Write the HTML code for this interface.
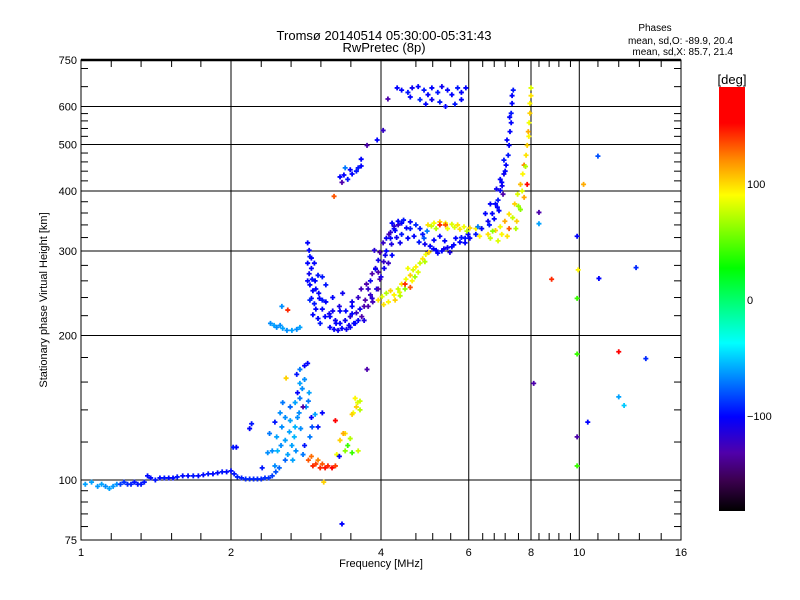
<!DOCTYPE html>
<html><head><meta charset="utf-8">
<style>
html,body{margin:0;padding:0;background:#fff;}
svg{display:block;font-family:"Liberation Sans",sans-serif;}
text{fill:#000;}
</style></head>
<body>
<svg id="chart" width="800" height="600" viewBox="0 0 800 600" xmlns="http://www.w3.org/2000/svg">
<rect x="0" y="0" width="800" height="600" fill="#fff"/>
<text x="384" y="40" font-size="13" text-anchor="middle">Tromsø 20140514 05:30:00-05:31:43</text>
<text x="384" y="52" font-size="13" text-anchor="middle">RwPretec (8p)</text>
<text x="655" y="31" font-size="10" text-anchor="middle">Phases</text>
<text x="733" y="44" font-size="10" text-anchor="end">mean, sd,O: -89.9, 20.4</text>
<text x="733" y="55" font-size="10" text-anchor="end">mean, sd,X:  85.7, 21.4</text>
<g id="grid"></g>
<g id="points"></g>
<g id="axes"></g>
<text x="381" y="567" font-size="11" text-anchor="middle">Frequency [MHz]</text>
<text x="0" y="0" font-size="11" text-anchor="middle" transform="translate(47,300) rotate(-90)">Stationary phase Virtual Height [km]</text>
<defs><linearGradient id="cbar" x1="0" y1="0" x2="0" y2="1">
<stop offset="0" stop-color="#ff0000"/><stop offset="0.085" stop-color="#ff0000"/>
<stop offset="0.172" stop-color="#ff8c00"/><stop offset="0.255" stop-color="#ffff00"/>
<stop offset="0.427" stop-color="#00ff00"/><stop offset="0.604" stop-color="#00ffff"/>
<stop offset="0.778" stop-color="#0000ff"/><stop offset="0.863" stop-color="#5000aa"/>
<stop offset="0.927" stop-color="#3c0050"/><stop offset="1" stop-color="#000000"/>
</linearGradient></defs>
<g>
<rect x="719" y="87" width="26" height="424" fill="url(#cbar)"/>
<text x="732" y="84" font-size="13" text-anchor="middle">[deg]</text>
<text x="747" y="188" font-size="11">100</text>
<text x="747" y="304" font-size="11">0</text>
<text x="747" y="420" font-size="11">−100</text>
</g>
</svg>
<script>
// axis tick data
const xMajor=[1,2,4,6,8,10,16];
const xMinor=[1.15,1.32,1.52,1.74,2.3,2.64,3.03,3.48,4.7,5.08,5.52,6.4,6.75,7.1,7.55,8.3,8.7,9.1,9.6,10.9,12.0,13.2,14.6];
const yMajor=[75,100,200,300,400,500,600,750];
const yGrid=[100,200,300,400,500,600];
const yMinor=[80,85,90,95,120,140,160,180,220,240,260,280,320,340,360,380,420,440,460,480,520,540,560,580,660,720];

// E layer trace
const aF=[1.02,1.05,1.08,1.1,1.12,1.14,1.16,1.18,1.2,1.22,1.24,1.26,1.28,1.3,1.32,1.34,1.36,1.38,1.41,1.44,1.47,1.5,1.53,1.56,1.6,1.64,1.68,1.72,1.76,1.8,1.84,1.88,1.92,1.96,2.0,2.03,2.06,2.1,2.14,2.18,2.22,2.26,2.3,2.34,2.38,2.42,2.46,2.5];
const aH=[98,99,97,98,97,96,97,98,98,99,98,98,99,98,98,99,102,101,100,101,101,101,101,101.5,102,102,102,102,102.5,103,103,103.5,104,104,104.5,103,101.5,101,100.5,100.5,100.5,100.5,100.5,101,101,102,104,106];
const aP=[-60,-60,-62,-60,-65,-60,-62,-65,-85,-88,-90,-92,-95,-95,-95,-95,-98,-98,-95,-98,-95,-98,-98,-95,-98,-98,-95,-98,-98,-95,-98,-98,-95,-98,-98,-95,-92,-92,-90,-90,-90,-90,-90,-88,-88,-85,-80,-75];

// light-blue cluster
const bF=[2.37,2.42,2.47,2.53,2.57,2.39,2.45,2.51,2.54,2.63,2.69,2.72,2.75,2.78,2.81,2.75,2.71,2.81,2.85,2.75,2.69,2.63,2.57,2.48,2.6,2.65,2.7,2.79,2.81,2.88,2.91,2.83,2.87,2.9,2.95,2.99,3.05,2.45,2.57,2.31,2.18,2.2,2.05,2.02,2.58,2.72,2.79,2.76,2.68,2.62,2.74,2.86,2.66,2.52];
const bH=[114,115,123,129,121,125,132,138,145,133,129,135,148,155,162,170,166,173,175,159,145,142,135,115,113,118,115,113,118,123,129,142,152,135,137,129,138,107,110,106,128,131,117,117,163,152,142,128,123,126,138,146,110,118];
const bP=[-65,-65,-60,-65,-60,-70,-95,-65,-70,-60,-55,-65,-70,-65,-65,-70,-95,-100,-100,-60,-60,-75,-65,-55,-60,-60,-65,-70,-95,-70,-80,-65,-60,-100,-60,-95,-100,-65,-75,-95,-100,-95,-100,-95,100,-100,-130,-65,-55,-60,-65,-70,-60,-65];

// orange / yellow low cluster
const cF=[2.86,2.92,2.96,3.02,3.05,3.09,3.13,3.19,3.24,2.99,2.9,3.24,3.55,3.59,3.57,3.63,3.52,3.5,3.63,3.39,3.36,3.47,3.43,3.31,3.26,3.39,3.5,3.6,3.75,3.3,3.07,3.34];
const cH=[110,107,108,106,108,106,107,106,107,110,112,133,148,145,142,140,138,137,146,125,125,122,118,121,113,115,114,115,170,112,99,81];
const cP=[130,140,135,140,130,145,140,150,135,120,125,175,90,80,100,70,85,100,75,95,110,70,40,100,85,60,40,75,-130,-100,100,-100];

// light-blue band near 205 km
const dF=[2.4,2.44,2.47,2.51,2.54,2.59,2.65,2.71,2.75,2.53,2.6];
const dH=[212,210,208,210,207,205,205,206,208,230,226];
const dP=[-65,-60,-65,-65,-60,-65,-60,-65,-60,-65,140];

// F1 O-mode region
const eF=[2.85,2.87,2.88,2.85,2.9,2.87,2.91,2.88,2.92,2.9,2.94,2.96,2.92,2.99,3.02,2.96,2.99,2.94,3.01,3.05,3.09,3.05,2.95,2.85,2.88,
3.16,3.22,3.28,3.34,3.41,3.47,3.53,3.6,3.31,3.39,3.24,3.47,3.57,3.63,3.66,3.5,3.16,3.31,
3.72,3.77,3.81,3.84,3.9,3.95,3.98,4.04,4.1,4.18,4.25,4.33,4.4,3.77,3.84,3.92,3.98,4.06,4.14,4.21,3.74,3.88,4.08,3.95,3.81,
3.0,3.1,3.2,3.3,3.4,3.5,3.6,3.7,3.1,3.2,3.35,3.5,3.65,3.25,3.45,3.55,3.05,2.9,3.15,3.7,3.85,3.95,4.0,4.05,3.9,4.1,4.2,4.15,4.3,4.25];
const eH=[312,301,292,283,276,269,262,255,248,239,233,227,221,217,212,250,267,283,239,227,219,237,260,260,237,
208,206,205,207,206,208,212,215,212,215,215,219,223,227,219,230,219,225,
237,250,260,269,276,287,298,312,319,328,334,340,343,230,239,250,262,276,283,294,256,301,294,271,243,
245,235,225,230,225,235,240,230,255,240,245,222,250,212,210,212,265,290,222,215,235,250,265,285,275,300,310,325,320,338];
const eP=[-100,-100,-95,-100,-100,-105,-95,-100,-100,-100,-95,-100,-100,-100,-95,-100,-95,-100,-100,-100,-100,-95,-100,-100,-90,
-100,-100,-105,-100,-105,-100,-100,-100,-100,-105,-105,-115,-120,-105,-130,-100,-100,-100,
-130,-120,-105,-130,-115,-105,-130,-120,-105,-115,-100,-120,-100,-130,-115,-105,-130,-105,-120,-100,-130,-115,-105,-130,-120,
-100,-100,-105,-110,-100,-105,-120,-130,-95,-100,-105,-100,-125,-100,-105,-100,-95,-100,-105,-110,-125,-130,-110,-120,-105,-100,-110,-125,-105,-115];

// O-mode loop 4.1-6 MHz
const gF=[4.21,4.33,4.44,4.58,4.7,4.79,4.27,4.4,4.53,4.66,4.77,4.9,5.02,5.16,5.3,5.44,5.6,5.76,5.9,5.98,4.88,5.11,5.37,5.65,4.97,5.2,5.5,4.58,4.37,4.18,4.5,4.85,5.1,5.35,5.55,5.8,4.95,5.25];
const gH=[343,346,348,345,340,334,331,325,319,322,313,310,307,301,300,305,309,313,319,325,319,316,315,319,298,297,298,334,312,319,335,325,303,303,306,320,330,322];
const gP=[-100,-100,-95,-100,-90,-95,-100,-95,-100,-100,-95,-105,-100,-100,-100,-105,-100,-100,-95,-100,-80,-100,-100,-100,-105,-100,-110,-95,-105,-100,-100,-95,-100,-105,-100,-95,-70,-100];

// X-mode rising 3.9-5 MHz
const kF=[3.95,4.02,4.1,4.18,4.25,4.33,4.4,4.49,4.58,4.64,4.7,4.79,4.85,4.92,4.99,4.47,4.37,4.62,4.75,4.27,4.53,4.14,4.47,4.58,4.9,4.68,4.36,4.05];
const kH=[237,241,245,248,243,250,256,262,267,274,278,283,289,295,298,250,242,260,271,237,276,235,256,252,285,265,246,232];
const kP=[95,80,70,100,90,75,95,85,100,80,90,75,95,85,100,60,70,90,80,100,85,90,140,130,70,65,80,95];

// X-mode flat 5-6.4 MHz
const mF=[4.97,5.11,5.25,5.39,5.55,5.7,5.87,6.03,6.2,6.37,5.16,5.44,5.76,5.25,5.39,5.05,5.62,5.95];
const mH=[340,343,345,343,341,340,337,335,334,334,334,334,333,340,340,338,336,330];
const mP=[95,85,100,90,80,95,85,100,90,80,70,85,95,140,130,75,80,70];

// X-mode rising 6-8 MHz
const nF=[6.31,6.56,6.79,6.94,7.09,7.23,7.42,7.52,7.62,7.7,7.75,7.82,7.86,7.9,7.93,7.96,7.96,8.0,8.0,6.63,6.99,7.23,7.49,7.62,7.75,7.86,6.87,7.17,7.46,7.35,7.55,7.68,7.8,7.92,6.7];
const nH=[322,325,331,337,346,358,376,394,413,434,453,475,498,532,555,581,609,632,656,319,325,334,346,366,388,413,315,322,334,352,372,400,450,520,330];
const nP=[90,95,100,85,110,95,100,80,105,90,120,95,100,110,85,100,90,95,80,75,90,130,100,60,110,175,80,95,70,75,65,80,70,90,60];

// O-mode rising 5.8-7.4 MHz
const oF=[5.9,6.03,6.2,6.37,6.56,6.69,6.79,6.87,6.94,6.99,7.06,7.13,7.2,7.23,7.26,7.3,7.3,7.33,7.33,7.37,6.26,6.48,6.63,6.82,6.94,7.06,7.16,6.75,6.9,7.03,6.6,6.85,7.0,7.1,7.25];
const oH=[312,319,325,334,346,359,376,383,401,417,434,453,475,498,532,555,581,609,632,649,337,359,376,404,423,464,511,350,364,394,340,370,410,440,570];
const oP=[-100,-100,-95,-100,-105,-100,-100,-95,-100,-100,-105,-100,-95,-100,-100,-100,-95,-100,-100,-95,-70,-100,-100,-105,-100,-95,-100,-100,-100,-130,-95,-100,-105,-100,-100];

// F2 top cluster
const tF=[4.31,4.4,4.53,4.62,4.75,4.88,4.97,5.06,5.2,5.3,5.44,5.55,5.7,5.8,5.92,4.79,4.92,5.25,5.39,5.06,4.58,5.63,5.8,4.13];
const tH=[656,649,642,656,660,649,635,656,642,660,649,635,656,642,656,620,607,613,600,620,628,607,620,622];
const tP=[-100,-100,-95,-105,-100,-95,-100,-100,-95,-105,-100,-100,-95,-100,-100,-90,-100,-95,-100,-105,-100,-95,-100,-130];

// cluster near 3.5 MHz / 430 km and scattered
const uF=[3.31,3.37,3.43,3.5,3.57,3.39,3.47,3.6,3.65,3.34,3.75,3.93,4.04,3.65,3.22];
const uH=[428,432,423,434,440,447,443,447,451,417,498,511,535,466,390];
const uP=[-100,-100,-95,-100,-95,-70,-100,-95,-100,-130,-130,-100,-120,-100,130];

// scattered points at high frequency
const sF=[10.9,10.2,8.3,8.3,9.9,9.95,8.8,10.95,13.0,9.9,9.9,12.0,13.6,8.1,12.0,12.3,10.4,9.9,9.9];
const sH=[473,413,361,342,322,274,262,263,277,239,183,185,179,159,149,143,132,123,107];
const sP=[-80,110,-130,-60,-100,90,140,-100,-90,40,40,175,-90,-130,-60,-50,-100,-130,40];

const X0=81,X1=681,Y0=60,Y1=540;
function xs(f){return X0+(X1-X0)*Math.log2(f)/4;}
function ys(h){return Y1-(Y1-Y0)*Math.log10(h/75);}
const NS='http://www.w3.org/2000/svg';
function mk(tag,attrs,parent){const e=document.createElementNS(NS,tag);for(const k in attrs)e.setAttribute(k,attrs[k]);parent.appendChild(e);return e;}

// colour map
const cStops=[[180,[255,0,0]],[149,[255,0,0]],[118,[255,140,0]],[88,[255,255,0]],[26,[0,255,0]],[-37,[0,255,255]],[-100,[0,0,255]],[-131,[80,0,170]],[-154,[60,0,80]],[-180,[0,0,0]]];
function col(p){
  for(let i=0;i<cStops.length-1;i++){
    const a=cStops[i],b=cStops[i+1];
    if(p<=a[0]&&p>=b[0]){const t=(a[0]-p)/(a[0]-b[0]);
      return 'rgb('+a[1].map((v,j)=>Math.round(v+(b[1][j]-v)*t)).join(',')+')';}
  }
  return p>0?'rgb(255,0,0)':'rgb(0,0,0)';
}

const grid=document.getElementById('grid');
const axes=document.getElementById('axes');
const pts=document.getElementById('points');

xMajor.forEach(v=>{
  if(v>1&&v<16){const l=mk('line',{x1:xs(v),x2:xs(v),y1:Y0,y2:Y1,stroke:'#000','stroke-width':1},grid);
  
  }
  const t=mk('text',{x:xs(v),y:Y1+16,'font-size':11,'text-anchor':'middle'},axes);
  t.textContent=String(v);
  
  
});
yGrid.forEach(v=>{
  const l=mk('line',{x1:X0,x2:X1,y1:ys(v),y2:ys(v),stroke:'#000','stroke-width':1},grid);
  
  
});
yMajor.forEach(v=>{
  const t=mk('text',{x:X0-4,y:ys(v)+4,'font-size':11,'text-anchor':'end'},axes);
  t.textContent=String(v);
  
  
});
xMinor.forEach(v=>{
  const x=xs(v);
  const a=mk('line',{x1:x,x2:x,y1:Y1,y2:Y1-7,stroke:'#000','stroke-width':1},axes);
  
  
  const b=mk('line',{x1:x,x2:x,y1:Y0,y2:Y0+7,stroke:'#000','stroke-width':1},axes);
  
  
});
yMinor.forEach(v=>{
  const y=ys(v);
  const a=mk('line',{x1:X0,x2:X0+7,y1:y,y2:y,stroke:'#000','stroke-width':1},axes);
  
  
  const b=mk('line',{x1:X1,x2:X1-7,y1:y,y2:y,stroke:'#000','stroke-width':1},axes);
  
  
});
const fr=mk('rect',{x:X0,y:Y0,width:X1-X0,height:Y1-Y0,fill:'none',stroke:'#000','stroke-width':1},axes);


const tl=mk('line',{x1:X0,x2:X1,y1:Y0,y2:Y0,stroke:'#000','stroke-width':2.5},axes);



function plot(F,H,P){
  for(let i=0;i<F.length;i++){
    const x=xs(F[i]),y=ys(H[i]);
    const p=mk('path',{d:'M'+(x-2.5)+' '+y+'h5M'+x+' '+(y-2.5)+'v5',stroke:col(P[i]),'stroke-width':1.8,fill:'none'},pts);
    
    
  }
}
plot(aF,aH,aP);plot(bF,bH,bP);plot(cF,cH,cP);plot(dF,dH,dP);plot(eF,eH,eP);
plot(gF,gH,gP);plot(kF,kH,kP);plot(mF,mH,mP);plot(nF,nH,nP);plot(oF,oH,oP);
plot(tF,tH,tP);plot(uF,uH,uP);plot(sF,sH,sP);
</script>
</body></html>
